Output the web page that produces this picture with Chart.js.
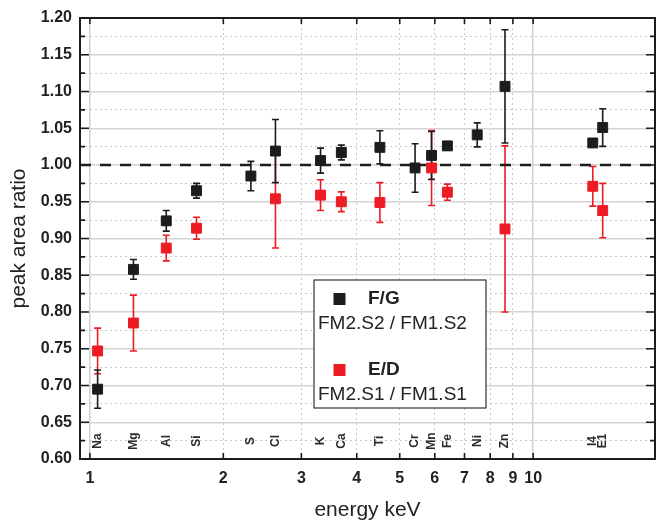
<!DOCTYPE html>
<html>
<head>
<meta charset="utf-8">
<script src="https://cdn.jsdelivr.net/npm/chart.js@4.4.0/dist/chart.umd.min.js"></script>
<style>
  body { margin: 0; background: #fff; }
  #wrap { width: 663px; height: 524px; }
</style>
</head>
<body>
<div id="wrap"><canvas id="myChart" width="663" height="524"></canvas></div>
<script>
// data
var elements = ['Na', 'Mg', 'Al', 'Si', 'S', 'Cl', 'K', 'Ca', 'Ti', 'Cr', 'Mn', 'Fe', 'Ni', 'Zn', 'I4', 'E1'];
var energies = [1.041, 1.254, 1.487, 1.740, 2.308, 2.622, 3.314, 3.692, 4.511, 5.415, 5.899, 6.404, 7.478, 8.639, 13.63, 14.35];
var fgValues = [0.695, 0.858, 0.924, 0.965, 0.985, 1.019, 1.006, 1.017, 1.024, 0.996, 1.013, 1.026, 1.041, 1.107, 1.030, 1.051];
var fgErrors = [0.026, 0.0135, 0.014, 0.010, 0.020, 0.043, 0.017, 0.010, 0.0225, 0.033, 0.0325, 0.004, 0.0163, 0.077, 0, 0.0256];
var edValues = [0.747, 0.785, 0.887, 0.914, null, 0.954, 0.959, 0.950, 0.949, null, 0.996, 0.963, null, 0.913, 0.971, 0.938];
var edErrors = [0.031, 0.038, 0.0175, 0.015, null, 0.067, 0.021, 0.0135, 0.027, null, 0.051, 0.011, null, 0.113, 0.027, 0.037];
var seriesNames = ['F/G', 'E/D'];
var seriesRatios = ['FM2.S2 / FM1.S2', 'FM2.S1 / FM1.S1'];
var xTicks = [1, 2, 3, 4, 5, 6, 7, 8, 9, 10];
var xMin = 0.95, xMax = 18.83;
var yMin = 0.60, yMax = 1.20;
var refLevel = 1.0;

var BLACK = '#1c1c1c';
var RED = '#ed1c24';
var FONT = '"Liberation Sans", Arial, sans-serif';

function toPoints(vals) {
  var pts = [];
  for (var i = 0; i < vals.length; i++) {
    if (vals[i] !== null) pts.push({x: energies[i], y: vals[i]});
  }
  return pts;
}

function isMajor(v) {
  return Math.round(v * 1000) % 50 === 0;
}

var decor = {
  id: 'decor',
  beforeDatasetsDraw: function(chart) {
    var c = chart.ctx, xs = chart.scales.x, ys = chart.scales.y, a = chart.chartArea;
    // element labels
    c.save();
    c.fillStyle = '#2a2a2a';
    c.font = 'bold 12px ' + FONT;
    c.textAlign = 'center';
    c.textBaseline = 'middle';
    for (var i = 0; i < elements.length; i++) {
      c.save();
      c.translate(xs.getPixelForValue(energies[i]), a.bottom - 18);
      c.rotate(-Math.PI / 2);
      c.fillText(elements[i], 0, 0);
      c.restore();
    }
    c.restore();
    // error bars
    var sets = [[edValues, edErrors, RED], [fgValues, fgErrors, BLACK]];
    c.save();
    c.lineWidth = 1.6;
    sets.forEach(function(s) {
      c.strokeStyle = s[2];
      for (var i = 0; i < s[0].length; i++) {
        if (s[0][i] === null || !s[1][i]) continue;
        var px = xs.getPixelForValue(energies[i]);
        var y1 = ys.getPixelForValue(s[0][i] + s[1][i]);
        var y2 = ys.getPixelForValue(s[0][i] - s[1][i]);
        c.beginPath();
        c.moveTo(px, y1); c.lineTo(px, y2);
        c.moveTo(px - 3.5, y1); c.lineTo(px + 3.5, y1);
        c.moveTo(px - 3.5, y2); c.lineTo(px + 3.5, y2);
        c.stroke();
      }
    });
    c.restore();
  },
  afterDraw: function(chart) {
    var c = chart.ctx, xs = chart.scales.x, ys = chart.scales.y, a = chart.chartArea;
    c.save();
    c.strokeStyle = BLACK;
    c.lineWidth = 2;
    c.strokeRect(a.left, a.top, a.right - a.left, a.bottom - a.top);
    // inward ticks
    c.lineWidth = 1.6;
    c.beginPath();
    ys.ticks.forEach(function(t) {
      var py = ys.getPixelForValue(t.value);
      var len = isMajor(t.value) ? 9 : 5;
      c.moveTo(a.left, py); c.lineTo(a.left + len, py);
      c.moveTo(a.right, py); c.lineTo(a.right - len, py);
    });
    xTicks.forEach(function(v) {
      var px = xs.getPixelForValue(v);
      c.moveTo(px, a.bottom); c.lineTo(px, a.bottom - 6);
      c.moveTo(px, a.top); c.lineTo(px, a.top + 6);
    });
    c.stroke();
    // legend box
    var lx = 314, ly = 280, lw = 172, lh = 128;
    c.fillStyle = '#fff';
    c.fillRect(lx, ly, lw, lh);
    c.strokeStyle = '#333';
    c.lineWidth = 1.2;
    c.strokeRect(lx, ly, lw, lh);
    var colors = [BLACK, RED];
    for (var k = 0; k < 2; k++) {
      var cy = ly + 19 + k * 71;
      c.fillStyle = colors[k];
      c.fillRect(lx + 19.5, cy - 6, 12, 12);
      c.fillStyle = '#222';
      c.font = 'bold 19px ' + FONT;
      c.textAlign = 'left';
      c.textBaseline = 'middle';
      c.fillText(seriesNames[k], lx + 54, cy);
      c.font = '19px ' + FONT;
      c.fillText(seriesRatios[k], lx + 4, cy + 25);
    }
    c.restore();
  }
};

var ctx = document.getElementById('myChart').getContext('2d');

var myChart = new Chart(ctx, {
  type: 'scatter',
  data: {
    datasets: [
      {
        type: 'line',
        label: 'reference',
        data: [{x: xMin, y: refLevel}, {x: xMax, y: refLevel}],
        borderColor: BLACK,
        borderWidth: 2.5,
        borderDash: [11, 9],
        pointRadius: 0,
        order: 3
      },
      {
        label: seriesNames[1],
        data: toPoints(edValues),
        pointStyle: 'rect',
        pointRadius: 7,
        backgroundColor: RED,
        borderColor: RED,
        borderWidth: 1,
        order: 2
      },
      {
        label: seriesNames[0],
        data: toPoints(fgValues),
        pointStyle: 'rect',
        pointRadius: 7,
        backgroundColor: BLACK,
        borderColor: BLACK,
        borderWidth: 1,
        order: 1
      }
    ]
  },
  options: {
    responsive: false,
    animation: false,
    layout: { padding: { left: 0, right: 2, top: 18, bottom: 0 } },
    plugins: {
      legend: { display: false },
      tooltip: { enabled: false }
    },
    scales: {
      x: {
        type: 'logarithmic',
        min: xMin,
        max: xMax,
        afterBuildTicks: function(scale) {
          scale.ticks = xTicks.map(function(v) { return {value: v}; });
        },
        afterFit: function(scale) { scale.height = 65; },
        ticks: {
          autoSkip: false,
          maxRotation: 0,
          padding: 10,
          color: '#222',
          font: { family: FONT, size: 16, weight: 'bold' },
          callback: function(v) { return String(v); }
        },
        grid: {
          drawTicks: false,
          color: function(c) {
            var v = c.tick ? c.tick.value : 0;
            return (v === 1 || v === 10) ? '#d0d0d0' : '#c8c8c8';
          },
          lineWidth: function(c) {
            var v = c.tick ? c.tick.value : 0;
            return (v === 1 || v === 10) ? 1.5 : 1;
          }
        },
        border: {
          display: false,
          dash: function(c) {
            var v = c.tick ? c.tick.value : 0;
            return (v === 1 || v === 10) ? [] : [2, 3];
          }
        },
        title: {
          display: true,
          text: 'energy keV',
          color: '#222',
          font: { family: FONT, size: 21 },
          padding: { top: 0, bottom: 1 }
        }
      },
      y: {
        min: yMin,
        max: yMax,
        afterFit: function(scale) { scale.width = 80; },
        ticks: {
          stepSize: 0.025,
          autoSkip: false,
          padding: 8,
          color: '#222',
          font: { family: FONT, size: 16, weight: 'bold' },
          callback: function(v) { return isMajor(v) ? v.toFixed(2) : ''; }
        },
        grid: {
          drawTicks: false,
          color: function(c) {
            var v = c.tick ? c.tick.value : 0;
            return isMajor(v) ? '#d4d4d4' : '#c8c8c8';
          },
          lineWidth: function(c) {
            var v = c.tick ? c.tick.value : 0;
            return isMajor(v) ? 1.5 : 1;
          }
        },
        border: {
          display: false,
          dash: function(c) {
            var v = c.tick ? c.tick.value : 0;
            return isMajor(v) ? [] : [2, 3];
          }
        },
        title: {
          display: true,
          text: 'peak area ratio',
          color: '#222',
          font: { family: FONT, size: 21 },
          padding: { top: 7, bottom: 0 }
        }
      }
    }
  },
  plugins: [decor]
});
</script>
</body>
</html>
